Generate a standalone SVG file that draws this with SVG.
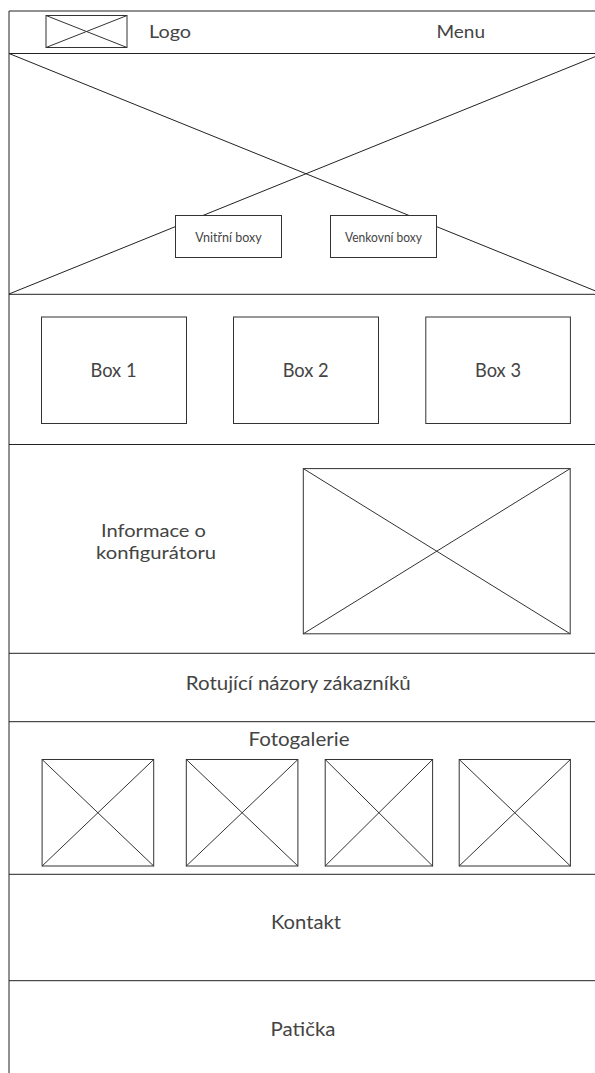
<svg xmlns="http://www.w3.org/2000/svg" width="595" height="1073" viewBox="0 0 595 1073">
<style>
.ln{stroke:#222;stroke-width:1;fill:none}
.bx{stroke:#333;stroke-width:1;fill:#fff}
.ph{stroke:#333;stroke-width:1;fill:none}
.t{font-family:Lato,"Open Sans",sans-serif;fill:#444;text-anchor:middle}
.l{font-size:19.5px}
.s{font-size:12.5px}
</style>
<rect width="595" height="1073" fill="#fff"/>
<g id="frame">
<line class="ln" x1="9" y1="11" x2="9" y2="1073"/>
<line class="ln" x1="9" y1="11" x2="595" y2="11"/>
</g>
<g id="header">
<line class="ln" x1="9" y1="53.5" x2="595" y2="53.5"/>
<rect class="ph" x="46" y="15.5" width="81" height="32"/>
<line class="ph" x1="46" y1="15.5" x2="127" y2="47.5"/>
<line class="ph" x1="46" y1="47.5" x2="127" y2="15.5"/>
<text class="t" x="170" y="37.7" font-size="18" textLength="42" lengthAdjust="spacingAndGlyphs">Logo</text>
<text class="t" x="460.7" y="37.7" font-size="18" textLength="48.6" lengthAdjust="spacingAndGlyphs">Menu</text>
</g>
<g id="hero">
<line class="ln" x1="9" y1="53.5" x2="603" y2="294"/>
<line class="ln" x1="9" y1="294" x2="603" y2="53.5"/>
<line class="ln" x1="9" y1="294.3" x2="595" y2="294.3"/>
</g>
<g id="vnitrni-boxy">
<rect class="bx" x="175.5" y="215.5" width="106" height="42"/>
<text class="t s" x="228.5" y="241.5">Vnitřní boxy</text>
</g>
<g id="venkovni-boxy">
<rect class="bx" x="330.5" y="215.5" width="106" height="42"/>
<text class="t s" x="383.5" y="241.5" textLength="77" lengthAdjust="spacingAndGlyphs">Venkovní boxy</text>
</g>
<g id="boxes-section">
<line class="ln" x1="9" y1="444.5" x2="595" y2="444.5"/>
</g>
<g id="box1">
<rect class="bx" x="41.5" y="317" width="145" height="106.5"/>
<text class="t l" x="113.5" y="377.3" textLength="46" lengthAdjust="spacingAndGlyphs">Box 1</text>
</g>
<g id="box2">
<rect class="bx" x="233.5" y="317" width="145" height="106.5"/>
<text class="t l" x="305.7" y="377.3" textLength="46" lengthAdjust="spacingAndGlyphs">Box 2</text>
</g>
<g id="box3">
<rect class="bx" x="425.8" y="317" width="144.6" height="106.5"/>
<text class="t l" x="498" y="377.3" textLength="46" lengthAdjust="spacingAndGlyphs">Box 3</text>
</g>
<g id="informace">
<text class="t" x="153.5" y="537.2" font-size="17.5" textLength="105" lengthAdjust="spacingAndGlyphs">Informace o</text>
<text class="t" x="156" y="558.8" font-size="17.5" textLength="120" lengthAdjust="spacingAndGlyphs">konfigurátoru</text>
<rect class="ph" x="303.3" y="468.6" width="266.9" height="165.2"/>
<line class="ph" x1="303.3" y1="468.6" x2="570.2" y2="633.8"/>
<line class="ph" x1="303.3" y1="633.8" x2="570.2" y2="468.6"/>
<line class="ln" x1="9" y1="653.3" x2="595" y2="653.3"/>
</g>
<g id="nazory">
<text class="t l" x="298.3" y="690" textLength="225" lengthAdjust="spacingAndGlyphs">Rotující názory zákazníků</text>
<line class="ln" x1="9" y1="721.7" x2="595" y2="721.7"/>
</g>
<g id="fotogalerie">
<text class="t l" x="299" y="746" textLength="101" lengthAdjust="spacingAndGlyphs">Fotogalerie</text>
<rect class="ph" x="42.1" y="759.5" width="111.6" height="106.5"/>
<line class="ph" x1="42.1" y1="759.5" x2="153.7" y2="866"/>
<line class="ph" x1="42.1" y1="866" x2="153.7" y2="759.5"/>
<rect class="ph" x="186.3" y="759.5" width="111.6" height="106.5"/>
<line class="ph" x1="186.3" y1="759.5" x2="297.9" y2="866"/>
<line class="ph" x1="186.3" y1="866" x2="297.9" y2="759.5"/>
<rect class="ph" x="325.2" y="759.5" width="107.4" height="106.5"/>
<line class="ph" x1="325.2" y1="759.5" x2="432.6" y2="866"/>
<line class="ph" x1="325.2" y1="866" x2="432.6" y2="759.5"/>
<rect class="ph" x="459.2" y="759.5" width="111.2" height="106.5"/>
<line class="ph" x1="459.2" y1="759.5" x2="570.4" y2="866"/>
<line class="ph" x1="459.2" y1="866" x2="570.4" y2="759.5"/>
<line class="ln" x1="9" y1="874.3" x2="595" y2="874.3"/>
</g>
<g id="kontakt">
<text class="t l" x="306" y="929.3" textLength="70" lengthAdjust="spacingAndGlyphs">Kontakt</text>
<line class="ln" x1="9" y1="980.7" x2="595" y2="980.7"/>
</g>
<g id="paticka">
<text class="t l" x="303" y="1036" textLength="65" lengthAdjust="spacingAndGlyphs">Patička</text>
</g>
</svg>
